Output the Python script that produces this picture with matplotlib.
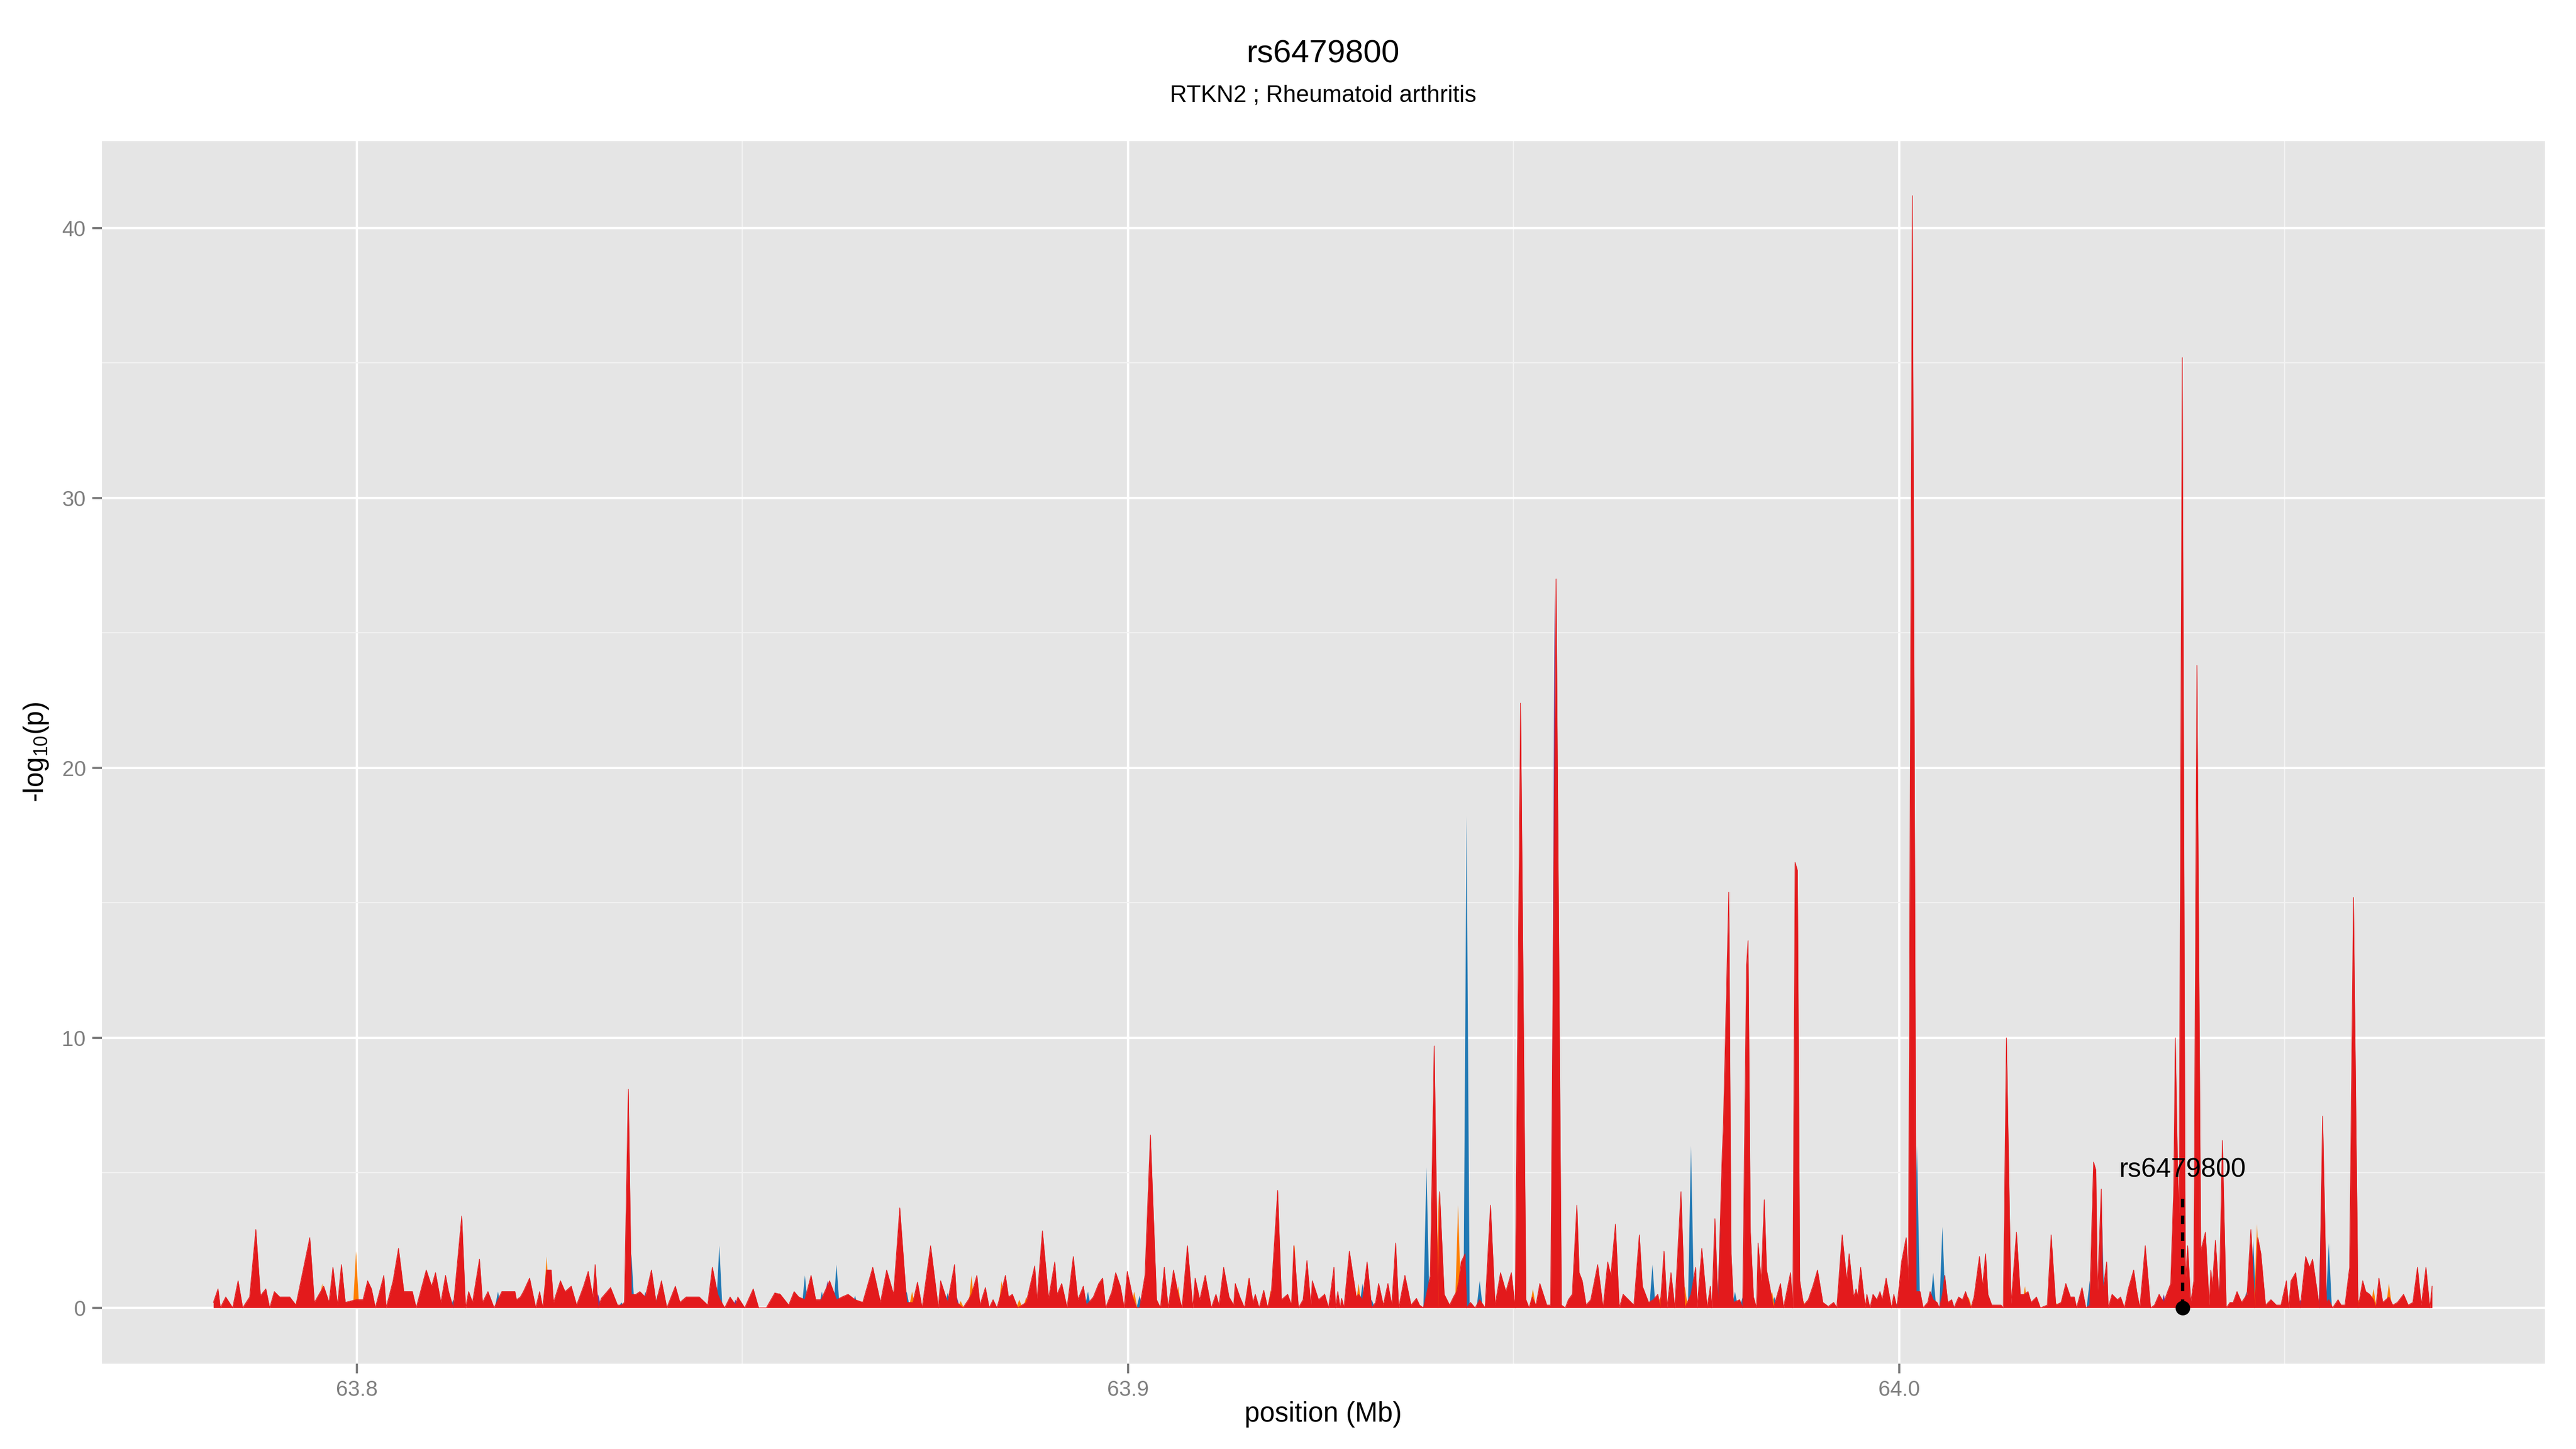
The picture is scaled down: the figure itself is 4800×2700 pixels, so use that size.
import matplotlib
matplotlib.use('Agg')
import matplotlib.pyplot as plt
import numpy as np

plt.rcParams['font.family'] = ['Liberation Sans', 'DejaVu Sans']
plt.rcParams['mathtext.fontset'] = 'custom'
plt.rcParams['mathtext.rm'] = 'Liberation Sans'
plt.rcParams['mathtext.it'] = 'Liberation Sans:italic'

# ---------------- data ----------------
title = 'rs6479800'
subtitle = 'RTKN2 ; Rheumatoid arthritis'
x_label = 'position (Mb)'
y_label = r'-log$_{10}$(p)'
lead_snp = 'rs6479800'
lead_pos_kb = 64036.75
lead_line_top = 4.2
lead_label_y = 5.1

x_ticks = [63.8, 63.9, 64.0]
x_tick_labels = ['63.8', '63.9', '64.0']
x_minor = [63.85, 63.95, 64.05]
y_ticks = [0, 10, 20, 30, 40]
y_minor = [5, 15, 25, 35]

red_pos_kb = [
    63781.4, 63782.0, 63782.3, 63783.0, 63783.9, 63784.6, 63785.2, 63786.1, 63786.9, 63787.5,
    63788.2, 63788.7, 63789.3, 63790.0, 63791.3, 63792.1, 63793.9, 63794.5, 63795.7, 63796.4,
    63796.9, 63797.5, 63798.0, 63798.5, 63799.9, 63800.8, 63801.4, 63801.9, 63802.4, 63803.5,
    63803.8, 63804.7, 63805.4, 63806.1, 63807.2, 63807.7, 63809.0, 63809.7, 63810.2, 63810.9,
    63811.5, 63811.9, 63812.5, 63813.6, 63814.1, 63814.5, 63815.0, 63815.9, 63816.3, 63817.0,
    63817.8, 63818.8, 63819.8, 63820.5, 63820.7, 63821.2, 63821.6, 63822.4, 63823.2, 63823.7,
    63824.1, 63824.6, 63825.2, 63825.5, 63826.4, 63827.0, 63827.8, 63828.5, 63829.4, 63830.0,
    63830.6, 63830.9, 63831.3, 63831.7, 63832.9, 63833.8, 63834.3, 63834.7, 63835.2, 63835.6,
    63836.2, 63836.7, 63837.4, 63838.2, 63838.8, 63839.5, 63840.2, 63841.3, 63841.9, 63842.7,
    63843.5, 63844.4, 63845.5, 63846.1, 63846.8, 63847.1, 63847.7, 63848.4, 63849.1, 63849.4,
    63850.3, 63851.4, 63852.1, 63853.1, 63854.2, 63854.9, 63856.0, 63856.7, 63857.3, 63858.1,
    63858.9, 63859.5, 63860.2, 63861.3, 63862.2, 63862.9, 63863.7, 63864.6, 63865.6, 63866.9,
    63867.9, 63868.7, 63869.6, 63870.4, 63871.3, 63872.1, 63872.7, 63873.3, 63874.4, 63875.4,
    63875.7, 63876.6, 63877.5, 63877.8, 63878.6, 63879.3, 63879.7, 63880.4, 63880.8, 63881.5,
    63882.0, 63882.5, 63883.0, 63883.4, 63884.1, 63884.5, 63885.0, 63885.7, 63886.8, 63887.9,
    63888.2, 63888.9, 63889.7, 63890.5, 63890.8, 63891.4, 63892.1, 63892.9, 63893.5, 63894.2,
    63894.6, 63895.5, 63896.2, 63896.7, 63897.1, 63897.9, 63898.4, 63899.0, 63899.5, 63899.9,
    63900.6, 63901.1, 63901.5, 63902.2, 63902.9, 63903.7, 63904.2, 63904.7, 63905.2, 63905.9,
    63906.5, 63907.0, 63907.7, 63908.4, 63908.7, 63909.3, 63910.0, 63910.8, 63911.4, 63911.8,
    63912.4, 63913.1, 63913.7, 63913.9, 63914.5, 63915.1, 63915.7, 63916.2, 63916.5, 63917.0,
    63917.6, 63918.1, 63918.6, 63919.4, 63919.9, 63920.7, 63921.2, 63921.5, 63922.1, 63922.7,
    63923.2, 63923.7, 63923.9, 63924.7, 63925.5, 63926.0, 63926.7, 63926.9, 63927.2, 63927.5,
    63927.7, 63928.0, 63928.7, 63929.6, 63929.9, 63930.4, 63931.0, 63931.6, 63932.1, 63932.5,
    63933.1, 63933.7, 63934.2, 63934.7, 63935.1, 63935.9, 63936.7, 63937.4, 63937.8, 63938.3,
    63938.7, 63939.2, 63939.7, 63940.2, 63940.4, 63941.0, 63941.7, 63942.2, 63942.6, 63942.9,
    63943.2, 63943.7, 63943.9, 63944.4, 63945.0, 63945.6, 63946.3, 63947.0, 63947.6, 63948.3,
    63949.0, 63949.7, 63950.2, 63950.9, 63951.6, 63952.0, 63952.4, 63952.9, 63953.4, 63954.3,
    63954.8, 63955.5, 63956.2, 63956.7, 63957.1, 63957.6, 63958.2, 63958.5, 63958.9, 63959.4,
    63960.0, 63960.9, 63961.6, 63962.2, 63962.6, 63963.2, 63963.7, 63964.2, 63964.9, 63965.6,
    63966.3, 63966.7, 63967.5, 63968.1, 63968.7, 63969.0, 63969.5, 63969.9, 63970.4, 63970.9,
    63971.7, 63972.2, 63973.0, 63973.6, 63973.8, 63974.4, 63975.1, 63975.5, 63975.7, 63976.1,
    63976.5, 63977.0, 63977.2, 63977.9, 63978.2, 63978.5, 63979.3, 63979.7, 63980.2, 63980.4,
    63980.7, 63981.1, 63981.5, 63981.7, 63982.1, 63982.5, 63982.8, 63983.2, 63983.7, 63984.6,
    63985.0, 63985.9, 63986.2, 63986.5, 63986.8, 63987.1, 63987.6, 63988.2, 63988.8, 63989.4,
    63990.1, 63990.8, 63991.5, 63991.9, 63992.6, 63993.2, 63993.5, 63994.1, 63994.4, 63994.6,
    63995.0, 63995.6, 63995.8, 63996.2, 63996.6, 63997.1, 63997.5, 63997.8, 63998.3, 63999.0,
    63999.3, 63999.7, 64000.3, 64000.9, 64001.2, 64001.7, 64002.2, 64002.7, 64003.1, 64003.7,
    64004.0, 64004.4, 64004.9, 64005.2, 64005.6, 64005.9, 64006.3, 64006.8, 64007.1, 64007.7,
    64008.2, 64008.6, 64009.3, 64009.7, 64010.4, 64010.8, 64011.2, 64011.5, 64012.0, 64012.5,
    64013.2, 64013.5, 64013.9, 64014.5, 64015.2, 64015.7, 64016.2, 64016.7, 64017.1, 64017.8,
    64018.3, 64019.2, 64019.7, 64020.3, 64021.0, 64021.6, 64022.2, 64022.7, 64023.0, 64023.7,
    64024.2, 64024.7, 64025.2, 64025.5, 64025.7, 64026.2, 64026.4, 64026.9, 64027.1, 64027.6,
    64028.3, 64028.7, 64029.2, 64029.7, 64030.4, 64030.8, 64031.2, 64031.9, 64032.6, 64033.1,
    64033.7, 64034.3, 64034.8, 64035.2, 64035.6, 64035.8, 64036.1, 64036.3, 64036.7, 64037.1,
    64037.4, 64037.8, 64038.2, 64038.6, 64039.1, 64039.7, 64040.2, 64040.4, 64040.6, 64041.0,
    64041.5, 64041.9, 64042.4, 64042.9, 64043.3, 64043.8, 64044.4, 64045.1, 64045.6, 64046.1,
    64046.5, 64046.9, 64047.5, 64048.2, 64048.9, 64049.5, 64050.2, 64050.5, 64050.8, 64051.4,
    64052.0, 64052.7, 64053.2, 64053.6, 64054.5, 64054.9, 64055.4, 64055.7, 64056.2, 64056.9,
    64057.3, 64057.8, 64058.4, 64058.9, 64059.5, 64060.1, 64060.5, 64061.0, 64061.5, 64061.8,
    64062.2, 64062.7, 64063.5, 64064.0, 64064.6, 64065.4, 64066.0, 64066.6, 64067.2, 64067.7,
    64068.3, 64068.8, 64069.1]
red_val = [
    0.2, 0.7, 0.0, 0.4, 0.0, 1.0, 0.0, 0.4, 2.9, 0.45,
    0.7, 0.0, 0.6, 0.4, 0.4, 0.1, 2.6, 0.2, 0.8, 0.2,
    1.5, 0.1, 1.6, 0.2, 0.3, 0.3, 1.0, 0.7, 0.0, 1.2,
    0.0, 1.0, 2.2, 0.6, 0.6, 0.0, 1.4, 0.8, 1.3, 0.2,
    1.2, 0.6, 0.0, 3.4, 0.0, 0.6, 0.2, 1.8, 0.2, 0.6,
    0.0, 0.6, 0.6, 0.6, 0.3, 0.4, 0.6, 1.1, 0.0, 0.6,
    0.0, 1.4, 1.4, 0.2, 1.0, 0.6, 0.8, 0.1, 0.8, 1.35,
    0.4, 1.6, 0.0, 0.35, 0.75, 0.1, 0.1, 0.2, 8.1, 0.5,
    0.5, 0.6, 0.4, 1.4, 0.2, 1.0, 0.0, 0.8, 0.2, 0.4,
    0.4, 0.4, 0.1, 1.5, 0.5, 0.3, 0.0, 0.4, 0.1, 0.4,
    0.0, 0.7, 0.0, 0.0, 0.55, 0.5, 0.1, 0.6, 0.4, 0.3,
    1.2, 0.3, 0.3, 1.0, 0.3, 0.4, 0.5, 0.3, 0.2, 1.5,
    0.2, 1.4, 0.5, 3.7, 0.2, 0.2, 0.95, 0.0, 2.3, 0.0,
    1.0, 0.2, 1.6, 0.2, 0.0, 0.3, 0.5, 1.2, 0.1, 0.75,
    0.0, 0.3, 0.0, 0.4, 1.2, 0.4, 0.5, 0.0, 0.2, 1.55,
    0.3, 2.85, 0.35, 1.7, 0.5, 0.9, 0.0, 1.9, 0.3, 0.8,
    0.1, 0.4, 0.9, 1.1, 0.0, 0.6, 1.3, 0.8, 0.0, 1.35,
    0.4, 0.0, 0.0, 1.2, 6.4, 0.3, 0.0, 1.5, 0.0, 1.4,
    0.5, 0.0, 2.3, 0.0, 1.1, 0.3, 1.2, 0.0, 0.5, 0.1,
    1.5, 0.4, 0.1, 0.9, 0.4, 0.0, 1.1, 0.2, 0.5, 0.0,
    0.65, 0.0, 0.65, 4.35, 0.3, 0.5, 0.1, 2.3, 0.0, 0.3,
    1.75, 0.1, 1.0, 0.3, 0.5, 0.0, 1.5, 0.0, 0.6, 0.0,
    0.35, 0.0, 2.1, 0.4, 0.5, 0.3, 1.7, 0.0, 0.2, 0.9,
    0.1, 0.9, 0.1, 2.4, 0.0, 1.2, 0.1, 0.35, 0.1, 0.0,
    0.5, 1.2, 9.7, 0.0, 4.3, 0.5, 0.1, 0.4, 0.6, 1.0,
    1.7, 2.0, 0.0, 0.2, 0.0, 0.3, 0.0, 3.8, 0.1, 1.3,
    0.6, 1.3, 0.0, 22.4, 0.3, 0.0, 0.4, 0.1, 0.9, 0.1,
    0.1, 27.0, 0.1, 0.0, 0.3, 0.5, 3.8, 1.3, 1.0, 0.1,
    0.3, 1.6, 0.0, 1.7, 1.2, 3.1, 0.0, 0.5, 0.3, 0.1,
    2.7, 0.8, 0.2, 0.3, 0.5, 0.0, 2.1, 0.0, 1.3, 0.0,
    4.3, 0.0, 0.5, 1.5, 0.0, 2.2, 0.0, 0.8, 0.0, 3.3,
    0.1, 5.3, 6.8, 15.4, 2.0, 0.2, 0.3, 0.0, 12.7, 13.6,
    2.8, 0.4, 0.0, 2.4, 1.0, 4.0, 1.4, 0.8, 0.0, 0.9,
    0.0, 1.3, 0.0, 16.5, 16.2, 1.0, 0.1, 0.3, 0.8, 1.4,
    0.2, 0.05, 0.2, 0.0, 2.7, 1.0, 2.0, 0.4, 0.7, 0.4,
    1.5, 0.0, 0.5, 0.0, 0.5, 0.3, 0.6, 0.3, 1.1, 0.0,
    0.5, 0.0, 1.7, 2.6, 1.0, 41.2, 0.6, 0.6, 0.0, 0.2,
    0.6, 0.3, 0.2, 0.0, 0.5, 1.2, 0.2, 0.3, 0.0, 0.4,
    0.3, 0.6, 0.0, 0.4, 1.9, 0.8, 2.0, 0.5, 0.1, 0.1,
    0.1, 0.0, 10.0, 0.1, 2.8, 0.5, 0.5, 0.6, 0.2, 0.4,
    0.0, 0.1, 2.7, 0.1, 0.2, 0.9, 0.4, 0.4, 0.0, 0.75,
    0.0, 0.1, 5.4, 5.1, 0.5, 4.4, 0.6, 1.7, 0.0, 0.5,
    0.3, 0.4, 0.0, 0.7, 1.4, 0.6, 0.0, 2.3, 0.0, 0.1,
    0.5, 0.2, 0.6, 0.9, 4.5, 10.0, 5.0, 3.5, 35.2, 1.0,
    2.3, 0.2, 1.0, 23.8, 2.1, 2.8, 0.1, 1.4, 0.8, 2.5,
    0.3, 6.2, 0.0, 0.2, 0.2, 0.6, 0.2, 0.5, 2.9, 0.0,
    2.6, 2.0, 0.1, 0.3, 0.1, 0.1, 1.0, 0.0, 1.0, 1.3,
    0.0, 1.9, 1.5, 1.8, 0.0, 7.1, 0.2, 0.3, 0.0, 0.3,
    0.1, 0.1, 1.5, 15.2, 0.0, 1.0, 0.6, 0.5, 0.3, 0.0,
    1.1, 0.2, 0.4, 0.1, 0.2, 0.5, 0.1, 0.2, 1.5, 0.1,
    1.5, 0.0, 0.8]

blue_pos_kb = [
    63795.1, 63798.3, 63812.5, 63818.3, 63834.3, 63835.6, 63837.4, 63839.0, 63847.0, 63858.1,
    63860.3, 63862.2, 63864.6, 63871.3, 63876.6, 63894.8, 63901.5, 63913.0, 63930.4, 63931.6,
    63938.7, 63943.9, 63945.6, 63968.0, 63973.0, 63976.8, 63978.7, 63979.7, 63983.8, 63999.9,
    64002.3, 64004.4, 64005.6, 64006.8, 64024.7, 64026.2, 64030.8, 64041.6, 64045.0, 64045.9,
    64055.7]
blue_val = [
    0.4, 0.6, 0.3, 0.6, 0.2, 2.0, 0.6, 0.5, 2.3, 1.2,
    0.6, 1.6, 0.45, 0.6, 0.55, 0.6, 0.45, 0.5, 0.9, 0.3,
    5.2, 18.2, 1.0, 1.6, 6.0, 3.0, 0.6, 0.4, 0.4, 0.3,
    6.0, 1.3, 3.0, 0.3, 1.0, 4.4, 0.6, 1.0, 0.6, 2.5,
    2.4]

orange_pos_kb = [
    63788.2, 63792.3, 63793.0, 63795.5, 63799.9, 63801.3, 63821.6, 63824.6, 63842.7, 63854.8,
    63857.1, 63862.6, 63872.0, 63878.3, 63879.7, 63883.6, 63885.9, 63886.8, 63896.3, 63900.8,
    63902.0, 63906.5, 63910.1, 63915.6, 63918.5, 63921.6, 63923.5, 63925.5, 63929.9, 63940.3,
    63942.8, 63952.5, 63966.9, 63969.0, 63972.2, 63983.5, 63987.5, 63995.3, 64009.0, 64016.3,
    64020.3, 64021.2, 64046.4, 64049.5, 64054.3, 64059.6, 64061.5, 64063.5]
orange_val = [
    0.7, 0.3, 0.3, 0.9, 2.1, 0.9, 0.55, 1.9, 0.4, 0.55,
    0.4, 0.3, 0.6, 0.25, 1.2, 1.0, 0.3, 0.4, 0.9, 0.6,
    0.2, 0.8, 1.2, 1.1, 0.65, 2.35, 0.4, 0.55, 0.9, 4.3,
    3.8, 0.7, 0.6, 0.4, 0.8, 0.6, 0.3, 0.6, 0.4, 0.8,
    0.2, 0.4, 3.1, 0.1, 0.2, 0.3, 0.7, 0.9]

purple_pos_kb = [63831.3, 63849.1, 63861.0, 63867.6, 63877.8, 63955.3, 63992.5, 64034.3, 64052.0, 64054.8]
purple_val = [0.5, 0.3, 1.0, 0.6, 0.4, 26.5, 2.5, 0.5, 0.3, 5.0]

# ---------------- style ----------------
C_RED = '#E31A1C'
C_BLUE = '#1F78B4'
C_ORANGE = '#FF7F00'
C_PURPLE = '#6A3D9A'
PANEL_BG = '#E5E5E5'
GREY_TXT = '#7F7F7F'
W, H = 4800, 2700

fig = plt.figure(figsize=(16, 9), dpi=300)
fig.patch.set_facecolor('white')
ax = fig.add_axes([190 / W, 1 - 2541 / H, (4742 - 190) / W, (2541 - 263) / H])
ax.set_facecolor(PANEL_BG)
for s in ax.spines.values():
    s.set_visible(False)

ax.set_xlim(63.76695, 64.08372)
ax.set_ylim(-2.07, 43.22)

ax.set_xticks(x_ticks)
ax.set_xticklabels(x_tick_labels)
ax.set_xticks(x_minor, minor=True)
ax.set_yticks(y_ticks)
ax.set_yticklabels([str(v) for v in y_ticks])
ax.set_yticks(y_minor, minor=True)
ax.set_axisbelow(True)
ax.grid(which='minor', color='#F2F2F2', linewidth=0.55)
ax.grid(which='major', color='white', linewidth=1.05)
ax.tick_params(which='major', length=4.3, width=1.0, color=GREY_TXT,
               labelcolor=GREY_TXT, labelsize=9.6, pad=2.9)
ax.tick_params(which='minor', length=0)

HALF = 0.4  # kb half-width of a single-SNP spike


def draw_spikes(pos_kb, vals, color, z):
    for p, v in zip(pos_kb, vals):
        ax.fill([(p - HALF) / 1000, p / 1000, (p + HALF) / 1000], [0, v, 0],
                color=color, linewidth=0, zorder=z)


draw_spikes(blue_pos_kb, blue_val, C_BLUE, 2)
draw_spikes(orange_pos_kb, orange_val, C_ORANGE, 3)
draw_spikes(purple_pos_kb, purple_val, C_PURPLE, 4)

rx = np.array(red_pos_kb) / 1000.0
ry = np.array(red_val)
ax.fill_between(rx, 0, ry, color=C_RED, linewidth=0, zorder=5)
ax.plot(rx, ry, color=C_RED, linewidth=0.3, zorder=5)

lx = lead_pos_kb / 1000.0
ax.plot([lx, lx], [0, lead_line_top], color='black', linewidth=1.5,
        linestyle=(0, (2.5, 2.5)), zorder=6)
ax.plot([lx], [0], marker='o', color='black', markersize=5.5, zorder=7, clip_on=False)
ax.text(lx, lead_label_y, lead_snp, ha='center', va='center', fontsize=12,
        color='black', zorder=8)

# titles
fig.text(2466 / W, 1 - 101 / H, title, ha='center', va='center', fontsize=14.5)
fig.text(2466 / W, 1 - 178 / H, subtitle, ha='center', va='center', fontsize=10.5)
fig.text(2466 / W, 1 - 2636 / H, x_label, ha='center', va='center', fontsize=12.2)
fig.text(67 / W, 1 - 1402 / H, y_label, ha='center', va='center', fontsize=12.2,
         rotation=90)

fig.savefig('out.png', dpi=300, facecolor='white')
